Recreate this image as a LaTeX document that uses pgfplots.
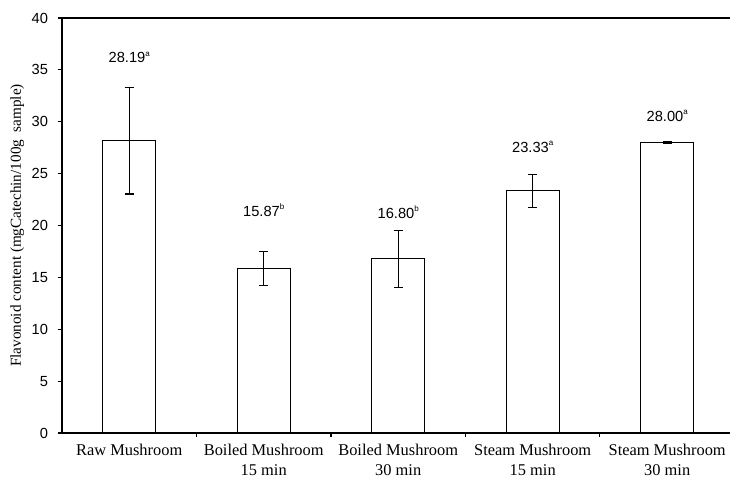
\documentclass[border=0pt]{standalone}
\usepackage{fontspec}
\setmainfont{Liberation Serif}
\newfontfamily\numfont{Liberation Sans}
\usepackage{pgfplots}
\usepackage{pgfplotstable}
\pgfplotsset{compat=1.18}

\pgfplotstableread{
x y err
0 28.19 5.15
1 15.87 1.65
2 16.80 2.75
3 23.33 1.60
4 28.00 0.06
}\datatable

\begin{document}
\begin{tikzpicture}
\begin{axis}[
  scale only axis, width=501pt, height=311.25pt,
  xmin=-0.5, xmax=4.467, ymin=0, ymax=40,
  axis x line*=box, axis y line*=left,
  xtick pos=bottom, ytick pos=left,
  axis line style={black, line width=0.9pt},
  xtick={0,1,2,3,4},
  xticklabels={Raw Mushroom, {Boiled Mushroom\\15 min}, {Boiled Mushroom\\30 min}, {Steam Mushroom\\15 min}, {Steam Mushroom\\30 min}},
  xticklabel style={align=center, font=\fontsize{12.3}{15}\selectfont, yshift=-2pt},
  major x tick style={draw=none},
  minor xtick={0.5,1.5,2.5,3.5},
  minor tick length=3pt, major tick length=3pt,
  ytick={0,5,...,40},
  tick align=outside,
  tick style={black, line width=0.8pt},
  yticklabel style={font=\numfont\fontsize{11}{12}\selectfont, xshift=-4pt},
  /pgf/number format/assume math mode=true,
  ylabel={Flavonoid content (mgCatechin/100g\ \ sample)},
  every axis y label/.style={at={(axis description cs:-0.067,0.5)}, rotate=90, anchor=center, font=\fontsize{11.4}{12}\selectfont},
  clip=false,
]
\addplot[ybar, bar width=39.75pt, fill=white, draw=black, line width=0.8pt,
  error bars/.cd, y dir=both, y explicit,
  error bar style={line width=0.8pt, black},
  error mark options={rotate=90, mark size=3.4pt, line width=0.8pt, black}]
  table[x=x, y=y, y error=err]{\datatable};
\begin{scope}[every node/.style={font=\numfont\fontsize{11}{12}\selectfont}]
\node at (axis cs:0,36.2) {28.19\raisebox{0.9ex}{\fontsize{6}{6}\selectfont a}};
\node at (axis cs:1,21.5) {15.87\raisebox{0.9ex}{\fontsize{6}{6}\selectfont b}};
\node at (axis cs:2,21.3) {16.80\raisebox{0.9ex}{\fontsize{6}{6}\selectfont b}};
\node at (axis cs:3,27.6) {23.33\raisebox{0.9ex}{\fontsize{6}{6}\selectfont a}};
\node at (axis cs:4,30.6) {28.00\raisebox{0.9ex}{\fontsize{6}{6}\selectfont a}};
\end{scope}
\end{axis}
\pgfresetboundingbox
\path[use as bounding box] (-46.5pt,-35.25pt) rectangle (501pt,324.75pt);
\end{tikzpicture}
\end{document}
